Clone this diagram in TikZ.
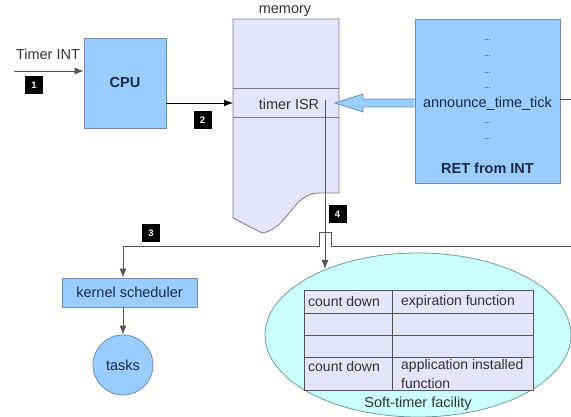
\documentclass[tikz,border=0pt]{standalone}
\usepackage{fontspec}
\setmainfont{Liberation Sans}
\usetikzlibrary{arrows.meta,shapes.geometric}
\definecolor{bluefill}{HTML}{99CCFF}
\definecolor{blueline}{HTML}{6E8CB4}
\definecolor{memfill}{HTML}{E4E4FA}
\definecolor{memline}{HTML}{7A7A8A}
\definecolor{cyanfill}{HTML}{CCFFFF}
\definecolor{cyanline}{HTML}{6E9C9E}
\definecolor{txtdark}{HTML}{1E2A44}
\definecolor{txtgray}{HTML}{333333}
\definecolor{wire}{HTML}{555555}
\begin{document}
\begin{tikzpicture}[x=1pt,y=-1pt,
  every node/.style={font=\fontsize{14.5}{16}\selectfont, inner sep=0pt, text=txtgray},
  bluebox/.style={draw=blueline, fill=bluefill, line width=0.8pt, text=txtdark},
  numlab/.style={fill=black, text=white, font=\bfseries\fontsize{9.5}{10}\selectfont, minimum size=18pt, inner sep=0pt},
  arr/.style={-{Latex[length=9pt,width=7pt]}, line width=0.9pt, draw=black},
  thin/.style={line width=0.8pt, draw=wire},
  dots/.style={font=\fontsize{8}{8}\selectfont, text=txtdark, anchor=base},
  cell/.style={anchor=west, text=txtgray, font=\fontsize{14}{15}\selectfont}
]
\useasboundingbox (0,0) rectangle (571,417);

% ---- Timer INT and CPU
\node[bluebox, minimum width=82pt, minimum height=90pt] (cpu) at (125,83) {\textbf{CPU}};
\node (tint) at (48,54) {Timer INT};
\coordinate (tinL) at (14,71);
\draw[arr, draw=wire, line width=0.8pt] (tinL) -- (tinL -| cpu.west);
\node[numlab] (n1) at (34,85.5) {1};

% ---- memory
\draw[draw=memline, fill=memfill, line width=0.8pt]
  (233,19) -- (339,19) -- (339,193) -- (318,193)
  .. controls (292,194) and (288,229) .. (262,233) -- (233,218) -- cycle;
\draw[draw=memline, line width=0.8pt] (233,88) -- (339,88);
\draw[draw=memline, line width=0.8pt] (233,117) -- (339,117);
\node (mem) at (285,11) {memory};
\node (isr) at (289,104) {timer ISR};
\coordinate (memL) at (233,103);
\draw[arr] (cpu.east |- memL) -- (memL);
\node[numlab] (n2) at (202.5,120.5) {2};

% ---- announce box
\node[bluebox, minimum width=145pt, minimum height=164pt] (ann) at (487.5,101) {};
\foreach \yy in {41,57,74,89,124,140} \node[dots] at (487.5,\yy) {...};
\node[text=txtdark] (att) at (487.5,104) {announce\_time\_tick};
\node[text=txtdark] (ret) at (487.5,168) {\textbf{RET from INT}};
\coordinate (reR) at (571,99);
\draw[thin] (ann.east |- reR) -- (reR);

% hollow arrow from announce box to timer ISR
\draw[draw=blueline, fill=bluefill, line width=0.8pt, line join=miter]
  (ann.west |- 0,99) -- (363,99) -- (363,94) -- (335,103) -- (363,112) -- (363,107) -- (ann.west |- 0,107);

% ---- bus line with bridge
\coordinate (busR) at (571,247);
\coordinate (busL) at (123,247);
\coordinate (brR) at (331,247);
\coordinate (brL) at (319,247);
\node[bluebox, minimum width=135pt, minimum height=29pt] (ks) at (129.5,292.5) {kernel scheduler};
\node[bluebox, circle, minimum size=60pt] (tasks) at (123,365) {tasks};
\draw[thin, line width=1pt] (busR) -- (brR) -- ++(0,-14) -| (brL) -- (busL);
\draw[arr, draw=wire] (busL) -- (busL |- ks.north);
\draw[arr, draw=wire] (ks.south -| tasks) -- (tasks.north);
\node[numlab] (n3) at (151,233.5) {3};

% ---- soft-timer facility
\node[draw=cyanline, fill=cyanfill, ellipse, line width=0.8pt, minimum width=306pt, minimum height=164pt] (soft) at (418,335) {};
\draw[draw=wire, fill=memfill, line width=0.8pt] (304,290) rectangle (533,390);
\draw[draw=wire, line width=0.8pt] (392,290) -- (392,390);
\foreach \yy in {313,335,357} \draw[draw=wire, line width=0.8pt] (304,\yy) -- (533,\yy);
\node[cell] at (308,301.5) {count down};
\node[cell] at (401,301.5) {expiration function};
\node[cell] at (308,366) {count down};
\node[cell] at (401,366) {application installed};
\node[cell] at (401,383) {function};
\node (stf) at (418,404) {Soft-timer facility};

\coordinate (isrR) at (325,100);
\coordinate (softTop) at (325,269);
\draw[arr, draw=wire, line width=0.8pt] (isrR) -- (softTop);
\node[numlab] (n4) at (337.5,214) {4};
\end{tikzpicture}
\end{document}
